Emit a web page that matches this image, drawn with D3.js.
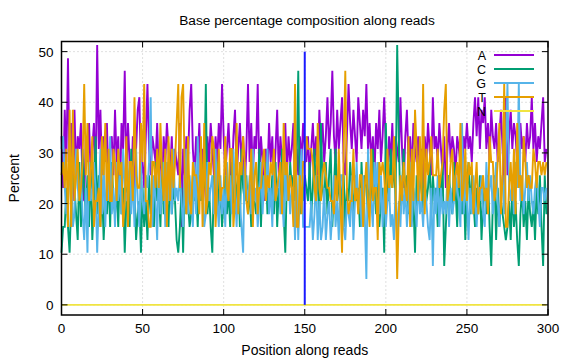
<!DOCTYPE html>
<html><head><meta charset="utf-8">
<script src="https://cdn.jsdelivr.net/npm/d3@7"></script>
<style>body{margin:0;background:#fff}svg{display:block}text{font-family:"Liberation Sans",Arial,sans-serif}</style>
</head><body>
<script>
const title = "Base percentage composition along reads";
const xLabel = "Position along reads";
const yLabel = "Percent";
const xTicks = [0, 50, 100, 150, 200, 250, 300];
const yTicks = [0, 10, 20, 30, 40, 50];
const seriesNames = ["A", "C", "G", "T", "N"];
const seriesColors = ["#9400d3", "#009e73", "#56b4e9", "#e69f00", "#f0e442"];
const markerPosition = 150;

const valuesA = [
33.3,23.1,38.5,28.2,48.7,25.6,35.9,20.5,38.5,25.6,33.3,30.8,35.9,23.1,20.5,33.3,28.2,35.9,25.6,30.8,35.9,23.1,51.3,30.8,38.5,
25.6,33.3,28.2,35.9,23.1,30.8,33.3,25.6,38.5,28.2,33.3,20.5,35.9,30.8,46.2,25.6,35.9,28.2,23.1,33.3,20.5,30.8,38.5,41.0,25.6,
28.2,23.1,33.3,43.6,30.8,25.6,33.3,30.8,28.2,35.9,25.6,30.8,23.1,33.3,28.2,35.9,30.8,25.6,33.3,23.1,30.8,28.2,25.6,35.9,15.4,
30.8,25.6,33.3,28.2,38.5,43.6,30.8,25.6,33.3,28.2,35.9,23.1,30.8,25.6,20.5,33.3,28.2,35.9,30.8,25.6,33.3,28.2,35.9,30.8,43.6,
33.3,25.6,30.8,35.9,28.2,23.1,33.3,38.5,25.6,30.8,35.9,28.2,33.3,23.1,30.8,43.6,28.2,35.9,25.6,33.3,30.8,43.6,25.6,33.3,28.2,
20.5,30.8,25.6,35.9,28.2,33.3,23.1,30.8,38.5,25.6,33.3,28.2,30.8,35.9,25.6,33.3,28.2,30.8,35.9,23.1,30.8,25.6,33.3,28.2,35.9,
30.8,28.2,33.3,25.6,30.8,35.9,28.2,33.3,25.6,38.5,30.8,35.9,28.2,33.3,41.0,30.8,35.9,46.2,33.3,28.2,38.5,30.8,35.9,41.0,28.2,
25.6,33.3,43.6,35.9,30.8,38.5,33.3,28.2,41.0,35.9,30.8,38.5,33.3,43.6,30.8,35.9,28.2,33.3,25.6,35.9,30.8,38.5,28.2,33.3,41.0,
30.8,25.6,33.3,28.2,35.9,25.6,33.3,30.8,28.2,41.0,30.8,23.1,33.3,38.5,28.2,33.3,25.6,35.9,30.8,28.2,33.3,25.6,30.8,23.1,33.3,
28.2,35.9,30.8,25.6,41.0,30.8,33.3,28.2,35.9,30.8,25.6,33.3,23.1,30.8,35.9,28.2,33.3,30.8,25.6,33.3,30.8,28.2,25.6,33.3,30.8,
35.9,30.8,33.3,28.2,35.9,41.0,33.3,41.0,30.8,38.5,35.9,41.0,30.8,35.9,28.2,38.5,33.3,30.8,35.9,28.2,33.3,38.5,30.8,23.1,41.0,
25.6,33.3,38.5,30.8,35.9,33.3,28.2,25.6,35.9,30.8,33.3,28.2,35.9,30.8,33.3,41.0,30.8,35.9,28.2,33.3,30.8,35.9,41.0,28.2,30.8];

const valuesC = [
10.3,15.4,15.4,23.1,15.4,10.3,20.5,25.6,23.1,17.9,12.8,28.2,15.4,30.8,23.1,17.9,25.6,15.4,28.2,12.8,20.5,33.3,17.9,25.6,15.4,
23.1,12.8,20.5,17.9,25.6,15.4,28.2,20.5,17.9,23.1,15.4,28.2,17.9,23.1,10.3,20.5,25.6,15.4,30.8,20.5,23.1,12.8,17.9,20.5,10.3,
23.1,15.4,20.5,12.8,25.6,17.9,23.1,15.4,28.2,20.5,23.1,15.4,28.2,17.9,25.6,20.5,15.4,28.2,17.9,23.1,20.5,12.8,10.3,15.4,23.1,
10.3,25.6,17.9,20.5,15.4,17.9,25.6,20.5,23.1,15.4,25.6,20.5,28.2,23.1,43.6,17.9,23.1,15.4,10.3,25.6,20.5,28.2,17.9,23.1,15.4,
20.5,25.6,17.9,23.1,15.4,28.2,20.5,17.9,23.1,25.6,15.4,30.8,23.1,20.5,25.6,17.9,23.1,15.4,28.2,20.5,17.9,23.1,30.8,15.4,25.6,
23.1,28.2,17.9,23.1,20.5,25.6,17.9,28.2,15.4,23.1,20.5,30.8,17.9,10.3,25.6,20.5,28.2,23.1,25.6,20.5,28.2,46.2,17.9,23.1,20.5,
25.6,23.1,20.5,28.2,17.9,23.1,30.8,20.5,25.6,17.9,35.9,23.1,20.5,28.2,17.9,25.6,30.8,15.4,23.1,30.8,20.5,25.6,17.9,23.1,25.6,
15.4,23.1,20.5,28.2,23.1,17.9,25.6,20.5,23.1,15.4,28.2,20.5,25.6,23.1,17.9,25.6,20.5,30.8,23.1,17.9,28.2,15.4,20.5,23.1,10.3,
35.9,23.1,20.5,30.8,23.1,28.2,20.5,51.3,33.3,17.9,23.1,30.8,20.5,25.6,17.9,23.1,28.2,20.5,10.3,25.6,20.5,23.1,28.2,17.9,25.6,
20.5,23.1,28.2,17.9,25.6,20.5,23.1,15.4,25.6,20.5,28.2,7.7,15.4,23.1,25.6,20.5,17.9,28.2,23.1,15.4,25.6,20.5,17.9,25.6,12.8,
23.1,28.2,17.9,25.6,20.5,15.4,23.1,17.9,25.6,12.8,20.5,23.1,17.9,25.6,15.4,7.7,20.5,25.6,12.8,23.1,15.4,20.5,17.9,15.4,12.8,
15.4,20.5,12.8,23.1,15.4,20.5,12.8,7.7,17.9,23.1,15.4,20.5,12.8,23.1,17.9,15.4,20.5,12.8,23.1,17.9,25.6,15.4,7.7,25.6,17.9];

const valuesG = [
30.8,33.3,23.1,17.9,20.5,25.6,28.2,15.4,17.9,30.8,23.1,20.5,25.6,17.9,12.8,23.1,10.3,28.2,20.5,23.1,28.2,23.1,10.3,20.5,30.8,
17.9,28.2,15.4,25.6,20.5,33.3,17.9,23.1,15.4,28.2,20.5,25.6,17.9,30.8,23.1,20.5,23.1,28.2,17.9,25.6,15.4,30.8,20.5,15.4,28.2,
20.5,17.9,25.6,23.1,28.2,41.0,15.4,25.6,20.5,12.8,28.2,17.9,23.1,28.2,15.4,28.2,20.5,25.6,17.9,30.8,20.5,23.1,20.5,25.6,20.5,
15.4,23.1,30.8,17.9,25.6,20.5,15.4,28.2,17.9,33.3,20.5,23.1,25.6,15.4,17.9,28.2,20.5,23.1,25.6,17.9,30.8,20.5,15.4,25.6,17.9,
23.1,15.4,28.2,20.5,25.6,17.9,30.8,23.1,15.4,25.6,20.5,15.4,10.3,28.2,23.1,20.5,25.6,17.9,30.8,20.5,23.1,15.4,20.5,28.2,17.9,
25.6,20.5,30.8,17.9,23.1,15.4,28.2,20.5,23.1,25.6,17.9,23.1,15.4,28.2,20.5,25.6,17.9,23.1,23.1,12.8,25.6,12.8,23.1,30.8,15.4,
15.4,15.4,15.4,15.4,20.5,12.8,17.9,25.6,12.8,20.5,12.8,15.4,23.1,12.8,17.9,20.5,12.8,17.9,25.6,15.4,20.5,12.8,25.6,25.6,15.4,
12.8,20.5,17.9,15.4,25.6,12.8,20.5,28.2,17.9,23.1,15.4,25.6,17.9,5.1,30.8,23.1,20.5,15.4,28.2,23.1,28.2,17.9,25.6,15.4,23.1,
15.4,20.5,23.1,15.4,17.9,12.8,23.1,12.8,20.5,15.4,25.6,17.9,23.1,15.4,20.5,28.2,15.4,23.1,20.5,15.4,25.6,17.9,20.5,15.4,23.1,
20.5,15.4,12.8,23.1,7.7,23.1,17.9,25.6,15.4,23.1,17.9,20.5,17.9,25.6,15.4,23.1,17.9,20.5,25.6,23.1,20.5,15.4,35.9,17.9,25.6,
20.5,12.8,23.1,17.9,25.6,20.5,15.4,23.1,20.5,25.6,17.9,15.4,28.2,20.5,23.1,25.6,17.9,23.1,28.2,20.5,15.4,23.1,25.6,17.9,30.8,
43.6,23.1,20.5,25.6,17.9,28.2,23.1,43.6,20.5,25.6,17.9,23.1,28.2,20.5,25.6,20.5,17.9,23.1,25.6,20.5,15.4,23.1,23.1,20.5,23.1];

const valuesT = [
25.6,28.2,23.1,30.8,15.4,38.5,15.4,38.5,20.5,25.6,30.8,20.5,23.1,28.2,43.6,25.6,35.9,20.5,25.6,33.3,15.4,20.5,20.5,23.1,15.4,
33.3,25.6,35.9,20.5,30.8,20.5,20.5,30.8,28.2,20.5,30.8,25.6,28.2,15.4,20.5,33.3,15.4,28.2,28.2,20.5,41.0,25.6,23.1,23.1,35.9,
28.2,43.6,20.5,20.5,15.4,15.4,28.2,28.2,23.1,30.8,23.1,35.9,25.6,20.5,30.8,15.4,33.3,20.5,30.8,23.1,28.2,35.9,43.6,23.1,41.0,
43.6,25.6,17.9,33.3,20.5,17.9,28.2,25.6,25.6,23.1,17.9,33.3,15.4,35.9,17.9,20.5,28.2,25.6,33.3,30.8,15.4,23.1,30.8,20.5,23.1,
23.1,33.3,23.1,20.5,30.8,30.8,15.4,20.5,35.9,17.9,28.2,25.6,33.3,28.2,20.5,17.9,23.1,30.8,15.4,25.6,28.2,17.9,23.1,23.1,28.2,
30.8,20.5,25.6,23.1,28.2,25.6,30.8,20.5,23.1,25.6,28.2,17.9,35.9,25.6,28.2,20.5,25.6,23.1,15.4,43.6,15.4,15.4,25.6,17.9,28.2,
28.2,33.3,30.8,30.8,30.8,28.2,23.1,20.5,35.9,23.1,20.5,25.6,28.2,25.6,23.1,23.1,20.5,20.5,17.9,25.6,20.5,30.8,20.5,10.3,30.8,
46.2,23.1,17.9,20.5,20.5,30.8,20.5,23.1,17.9,25.6,25.6,15.4,23.1,28.2,20.5,15.4,30.8,20.5,23.1,23.1,12.8,28.2,25.6,28.2,25.6,
17.9,30.8,23.1,25.6,23.1,33.3,23.1,5.1,17.9,25.6,20.5,28.2,23.1,20.5,33.3,15.4,30.8,20.5,38.5,30.8,20.5,33.3,20.5,43.6,17.9,
30.8,25.6,28.2,33.3,25.6,25.6,25.6,30.8,23.1,25.6,28.2,38.5,43.6,20.5,23.1,28.2,30.8,20.5,25.6,28.2,23.1,35.9,20.5,23.1,30.8,
20.5,28.2,25.6,28.2,17.9,23.1,28.2,17.9,23.1,23.1,25.6,20.5,23.1,17.9,33.3,28.2,28.2,20.5,23.1,28.2,35.9,17.9,25.6,43.6,15.4,
15.4,23.1,28.2,20.5,30.8,17.9,35.9,23.1,25.6,20.5,33.3,28.2,23.1,25.6,23.1,23.1,30.8,28.2,23.1,28.2,28.2,25.6,28.2,25.6,28.2];

const valuesN = valuesA.map(() => 0);
const positions = d3.range(valuesA.length);
const allSeries = [valuesA, valuesC, valuesG, valuesT, valuesN];

const W = 576, H = 360;
const m = {left: 61.5, right: 548, top: 41.5, bottom: 315};
const svg = d3.select("body").append("svg").attr("width", W).attr("height", H);
const x = d3.scaleLinear().domain([0, 300]).range([m.left, m.right]);
const y = d3.scaleLinear().domain([-2, 52]).range([m.bottom, m.top]);

// grid
const grid = svg.append("g").attr("stroke", "#b0b0b0").attr("stroke-width", 0.8).attr("stroke-dasharray", "1,3");
grid.selectAll(".gx").data(xTicks.slice(1, -1)).join("line")
  .attr("x1", d => x(d)).attr("x2", d => x(d)).attr("y1", m.top).attr("y2", m.bottom);
grid.selectAll(".gy").data(yTicks).join("line")
  .attr("y1", d => y(d)).attr("y2", d => y(d)).attr("x1", m.left).attr("x2", m.right);

// series
const line = d3.line().x((d, i) => x(positions[i])).y(d => y(d));
svg.append("g").selectAll("path").data(allSeries).join("path")
  .attr("d", d => line(d)).attr("fill", "none")
  .attr("stroke", (d, i) => seriesColors[i]).attr("stroke-width", 1.9)
  .attr("stroke-linejoin", "miter");

// marker at read boundary
svg.append("line").attr("x1", x(markerPosition)).attr("x2", x(markerPosition))
  .attr("y1", y(0)).attr("y2", y(50)).attr("stroke", "#1a1aff").attr("stroke-width", 2);

// axes (ticks inward, mirrored)
const ax = svg.append("g").attr("stroke", "#000").attr("stroke-width", 1);
xTicks.forEach(t => {
  ax.append("line").attr("x1", x(t)).attr("x2", x(t)).attr("y1", m.bottom).attr("y2", m.bottom - 6);
  ax.append("line").attr("x1", x(t)).attr("x2", x(t)).attr("y1", m.top).attr("y2", m.top + 6);
});
yTicks.forEach(t => {
  ax.append("line").attr("y1", y(t)).attr("y2", y(t)).attr("x1", m.left).attr("x2", m.left + 6);
  ax.append("line").attr("y1", y(t)).attr("y2", y(t)).attr("x1", m.right).attr("x2", m.right - 6);
});
svg.append("rect").attr("x", m.left).attr("y", m.top).attr("width", m.right - m.left)
  .attr("height", m.bottom - m.top).attr("fill", "none").attr("stroke", "#000").attr("stroke-width", 1.5);

svg.append("g").selectAll("text").data(xTicks).join("text")
  .attr("x", d => x(d)).attr("y", 333).attr("text-anchor", "middle").attr("font-size", 13.5).text(d => d);
svg.append("g").selectAll("text").data(yTicks).join("text")
  .attr("x", m.left - 8).attr("y", d => y(d) + 5).attr("text-anchor", "end").attr("font-size", 13.5).text(d => d);

svg.append("text").attr("x", 307).attr("y", 25).attr("text-anchor", "middle")
  .attr("font-size", 13.7).text(title);
svg.append("text").attr("x", (m.left + m.right) / 2).attr("y", 355).attr("text-anchor", "middle")
  .attr("font-size", 14).text(xLabel);
svg.append("text").attr("transform", `translate(19,${(m.top + m.bottom) / 2}) rotate(-90)`)
  .attr("text-anchor", "middle").attr("font-size", 14).text(yLabel);

// legend
const lg = svg.append("g");
seriesNames.forEach((n, i) => {
  const ly = 55 + i * 14;
  lg.append("text").attr("x", 486).attr("y", ly + 4.5).attr("text-anchor", "end").attr("font-size", 12.5).text(n);
  lg.append("line").attr("x1", 494).attr("x2", 534).attr("y1", ly).attr("y2", ly)
    .attr("stroke", seriesColors[i]).attr("stroke-width", 1.9);
});
</script>
</body></html>
